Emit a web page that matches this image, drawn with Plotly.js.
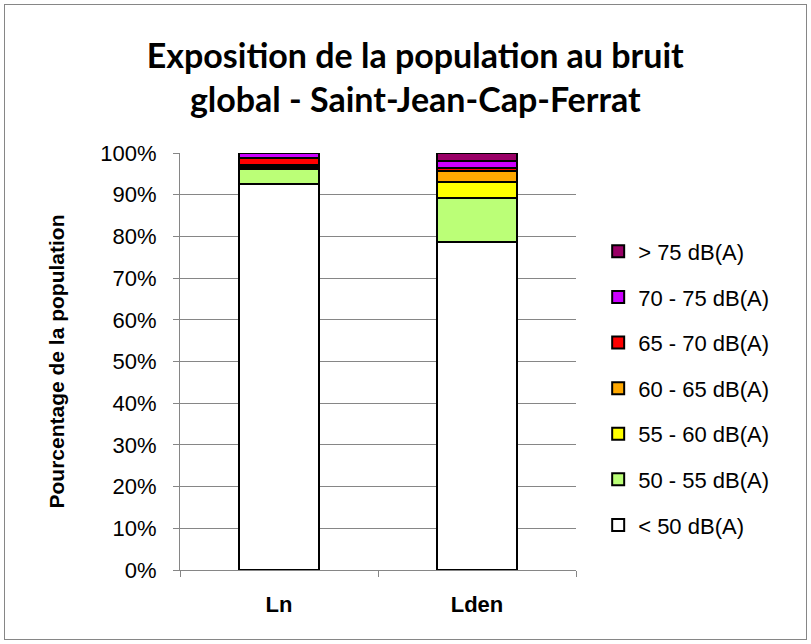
<!DOCTYPE html>
<html>
<head>
<meta charset="utf-8">
<script src="https://cdn.plot.ly/plotly-3.0.1.min.js"></script>
<style>
  body { margin: 0; background: #fff; }
  #chart { width: 811px; height: 644px; }
  #frame { position: absolute; left: 4px; top: 4px; width: 801px; height: 634px; border: 1px solid #868686; pointer-events: none; }
</style>
</head>
<body>
<div id="chart"></div>
<div id="frame"></div>
<script>
const categories = ["Ln", "Lden"];
const seriesNames = ["< 50 dB(A)", "50 - 55 dB(A)", "55 - 60 dB(A)", "60 - 65 dB(A)", "65 - 70 dB(A)", "70 - 75 dB(A)", "> 75 dB(A)"];
const below50 = [92.6, 78.7];
const db50_55 = [3.6, 10.6];
const db55_60 = [0.4, 3.8];
const db60_65 = [0.5, 2.6];
const db65_70 = [1.6, 0.8];
const db70_75 = [1.2, 1.7];
const above75 = [0.1, 1.8];
const seriesColors = ["#FFFFFF", "#BBFF77", "#FFFF00", "#FFA800", "#FF0000", "#CC00FF", "#990066"];
const yTickVals = [0, 10, 20, 30, 40, 50, 60, 70, 80, 90, 100];
const yTickText = ["0%", "10%", "20%", "30%", "40%", "50%", "60%", "70%", "80%", "90%", "100%"];

const seriesValues = [below50, db50_55, db55_60, db60_65, db65_70, db70_75, above75];
const traces = seriesValues.map((vals, i) => ({
  type: "bar",
  name: seriesNames[i],
  x: categories,
  y: vals,
  width: 0.4,
  legendgroup: "g" + i,
  legendrank: seriesValues.length - i,
  marker: { color: seriesColors[i], line: { color: "#000000", width: 2 } },
  hoverinfo: "name+y"
}));

const layout = {
  width: 811,
  height: 644,
  barmode: "stack",
  paper_bgcolor: "#FFFFFF",
  plot_bgcolor: "#FFFFFF",
  margin: { l: 180, r: 235, t: 153, b: 74 },
  title: {
    text: "<b>Exposition de la population au bruit<br>global - Saint-Jean-Cap-Ferrat</b>",
    font: { family: "Lato, 'Open Sans', sans-serif", size: 34, color: "#000000" },
    x: 0.512, xanchor: "center", xref: "container",
    y: 0.895, yanchor: "middle", yref: "container"
  },
  xaxis: {
    type: "category",
    range: [-0.5, 1.5],
    showgrid: false,
    showline: true,
    linecolor: "#868686",
    linewidth: 1,
    ticks: "outside",
    tickson: "boundaries",
    ticklen: 6,
    tickcolor: "#868686",
    ticklabelstandoff: 15,
    tickfont: { family: "'Liberation Sans', Arial, sans-serif", size: 22, color: "#000000", weight: "bold" },
    fixedrange: true
  },
  yaxis: {
    range: [0, 100],
    tickvals: yTickVals,
    ticktext: yTickText,
    showgrid: true,
    gridcolor: "#868686",
    gridwidth: 1,
    showline: true,
    linecolor: "#868686",
    linewidth: 1,
    ticks: "outside",
    ticklen: 6,
    tickcolor: "#868686",
    ticklabelstandoff: 12,
    zeroline: false,
    tickfont: { family: "'Liberation Sans', Arial, sans-serif", size: 22, color: "#000000" },
    title: {
      text: "<b>Pourcentage de la population</b>",
      font: { family: "'Liberation Sans', Arial, sans-serif", size: 21, color: "#000000" },
      standoff: 29
    },
    fixedrange: true
  },
  legend: {
    x: 1.056, xanchor: "left",
    y: 0.814, yanchor: "top",
    traceorder: "grouped",
    tracegroupgap: 14,
    font: { family: "'Liberation Sans', Arial, sans-serif", size: 22, color: "#000000" },
    bgcolor: "rgba(0,0,0,0)",
    itemwidth: 30
  },
  showlegend: true
};

Plotly.newPlot("chart", traces, layout, { displayModeBar: false, staticPlot: true });
</script>
</body>
</html>
